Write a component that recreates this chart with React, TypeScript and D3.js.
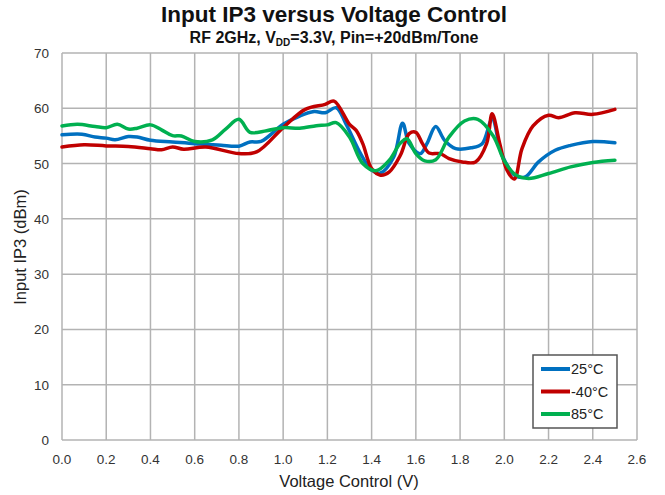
import React from 'react';
import { scaleLinear, line, curveCatmullRom, range } from 'd3';

// 25°C
const x25 = [0.0, 0.09, 0.15, 0.2, 0.24, 0.3, 0.34, 0.4, 0.5, 0.6, 0.65, 0.72, 0.8, 0.85, 0.9, 1.0, 1.075, 1.14, 1.19, 1.24, 1.285, 1.35, 1.4, 1.44, 1.5, 1.54, 1.57, 1.62, 1.65, 1.69, 1.73, 1.78, 1.85, 1.9, 1.945, 1.99, 2.05, 2.095, 2.155, 2.23, 2.3, 2.4, 2.5];
const ip3_25 = [55.2, 55.3, 54.8, 54.6, 54.3, 54.9, 54.8, 54.2, 53.9, 53.6, 53.5, 53.3, 53.15, 53.9, 54.0, 57.1, 58.6, 59.4, 59.2, 60.1, 57.1, 51.8, 48.8, 48.3, 51.2, 57.3, 53.6, 51.8, 53.6, 56.7, 54.2, 52.7, 52.85, 53.6, 58.0, 51.5, 47.8, 47.6, 50.3, 52.4, 53.3, 54.0, 53.75];

// -40°C
const xm40 = [0.0, 0.1, 0.2, 0.3, 0.4, 0.45, 0.5, 0.55, 0.65, 0.8, 0.88, 1.0, 1.1, 1.19, 1.23, 1.3, 1.33, 1.36, 1.4, 1.44, 1.48, 1.53, 1.57, 1.6, 1.63, 1.66, 1.71, 1.75, 1.81, 1.87, 1.92, 1.945, 1.98, 2.01, 2.045, 2.08, 2.13, 2.2, 2.245, 2.32, 2.4, 2.5];
const ip3_m40 = [53.0, 53.4, 53.2, 53.1, 52.7, 52.5, 53.0, 52.6, 53.0, 51.8, 52.1, 56.5, 59.8, 60.7, 61.3, 57.1, 56.0, 53.6, 49.1, 47.9, 48.5, 51.5, 55.4, 55.65, 53.6, 51.9, 51.8, 50.9, 50.3, 50.3, 53.6, 59.0, 53.5, 49.0, 47.2, 52.7, 56.8, 58.75, 58.3, 59.2, 58.9, 59.8];

// 85°C
const x85 = [0.0, 0.07, 0.15, 0.2, 0.25, 0.3, 0.34, 0.4, 0.45, 0.5, 0.54, 0.6, 0.68, 0.74, 0.8, 0.85, 0.925, 1.0, 1.075, 1.15, 1.2, 1.24, 1.3, 1.36, 1.42, 1.48, 1.53, 1.56, 1.6, 1.64, 1.69, 1.75, 1.82, 1.88, 1.95, 2.0, 2.05, 2.11, 2.2, 2.3, 2.4, 2.5];
const ip3_85 = [56.8, 57.1, 56.7, 56.5, 57.1, 56.25, 56.4, 57.0, 56.1, 55.05, 55.0, 54.0, 54.3, 56.25, 58.0, 55.65, 55.95, 56.5, 56.4, 56.85, 57.0, 57.4, 54.8, 50.0, 48.7, 50.6, 53.7, 54.5, 51.8, 50.5, 50.7, 54.8, 57.7, 58.0, 55.0, 50.5, 48.0, 47.3, 48.2, 49.4, 50.2, 50.6];

const seriesNames = ['25°C', '-40°C', '85°C'];
const seriesColors = ['#0070c0', '#c00000', '#00b050'];
const xTicks = range(0, 2.61, 0.2);
const yTicks = range(0, 71, 10);

const font = 'Liberation Sans, Arial, sans-serif';

export default function App() {
  const left = 62, right = 637, top = 53, bottom = 440;
  const x = scaleLinear().domain([0, 2.6]).range([left, right]);
  const y = scaleLinear().domain([0, 70]).range([bottom, top]);

  const series = [
    { xs: x25, ys: ip3_25 },
    { xs: xm40, ys: ip3_m40 },
    { xs: x85, ys: ip3_85 },
  ];
  const gen = line<[number, number]>()
    .x((d) => x(d[0]))
    .y((d) => y(d[1]))
    .curve(curveCatmullRom.alpha(0.5));

  return (
    <svg width={665} height={495} style={{ position: 'absolute', left: 0, top: 0 }} fontFamily={font}>
      <rect width={665} height={495} fill="#fff" />
      <text x={334} y={22} textAnchor="middle" fontSize={22.5} fontWeight="bold" fill="#111">
        Input IP3 versus Voltage Control
      </text>
      <text x={334} y={43} textAnchor="middle" fontSize={16} fontWeight="bold" fill="#111">
        RF 2GHz, V<tspan fontSize={10} dy={3}>DD</tspan><tspan dy={-3}>=3.3V, Pin=+20dBm/Tone</tspan>
      </text>

      {/* grid */}
      {xTicks.map((t) => (
        <line key={'gx' + t} x1={x(t)} x2={x(t)} y1={top} y2={bottom} stroke="#b3b3b3" strokeWidth={1.5} />
      ))}
      {yTicks.map((t) => (
        <line key={'gy' + t} x1={left} x2={right} y1={y(t)} y2={y(t)} stroke="#b3b3b3" strokeWidth={1.5} />
      ))}

      {/* tick labels */}
      {xTicks.map((t) => (
        <text key={'tx' + t} x={x(t)} y={464} textAnchor="middle" fontSize={13.5} fill="#333">
          {t.toFixed(1)}
        </text>
      ))}
      {yTicks.map((t) => (
        <text key={'ty' + t} x={49} y={y(t) + 5} textAnchor="end" fontSize={13.5} fill="#333">
          {t}
        </text>
      ))}

      <text x={349} y={487} textAnchor="middle" fontSize={16.5} fill="#222">
        Voltage Control (V)
      </text>
      <text transform="translate(26,247) rotate(-90)" textAnchor="middle" fontSize={16.5} fill="#222">
        Input IP3 (dBm)
      </text>

      {/* curves */}
      {series.map((s, i) => (
        <path
          key={seriesNames[i]}
          d={gen(s.xs.map((v, j) => [v, s.ys[j]] as [number, number])) || ''}
          fill="none"
          stroke={seriesColors[i]}
          strokeWidth={3.5}
          strokeLinejoin="round"
          strokeLinecap="round"
        />
      ))}

      {/* legend */}
      <rect x={533} y={355} width={84} height={73} fill="#fff" stroke="#555" strokeWidth={1.5} />
      {seriesNames.map((n, i) => (
        <g key={'lg' + n} transform={`translate(541,${369 + i * 22.5})`}>
          <line x1={0} x2={29} y1={0} y2={0} stroke={seriesColors[i]} strokeWidth={4} />
          <text x={30} y={5} fontSize={14.5} fill="#222">{n}</text>
        </g>
      ))}
    </svg>
  );
}
